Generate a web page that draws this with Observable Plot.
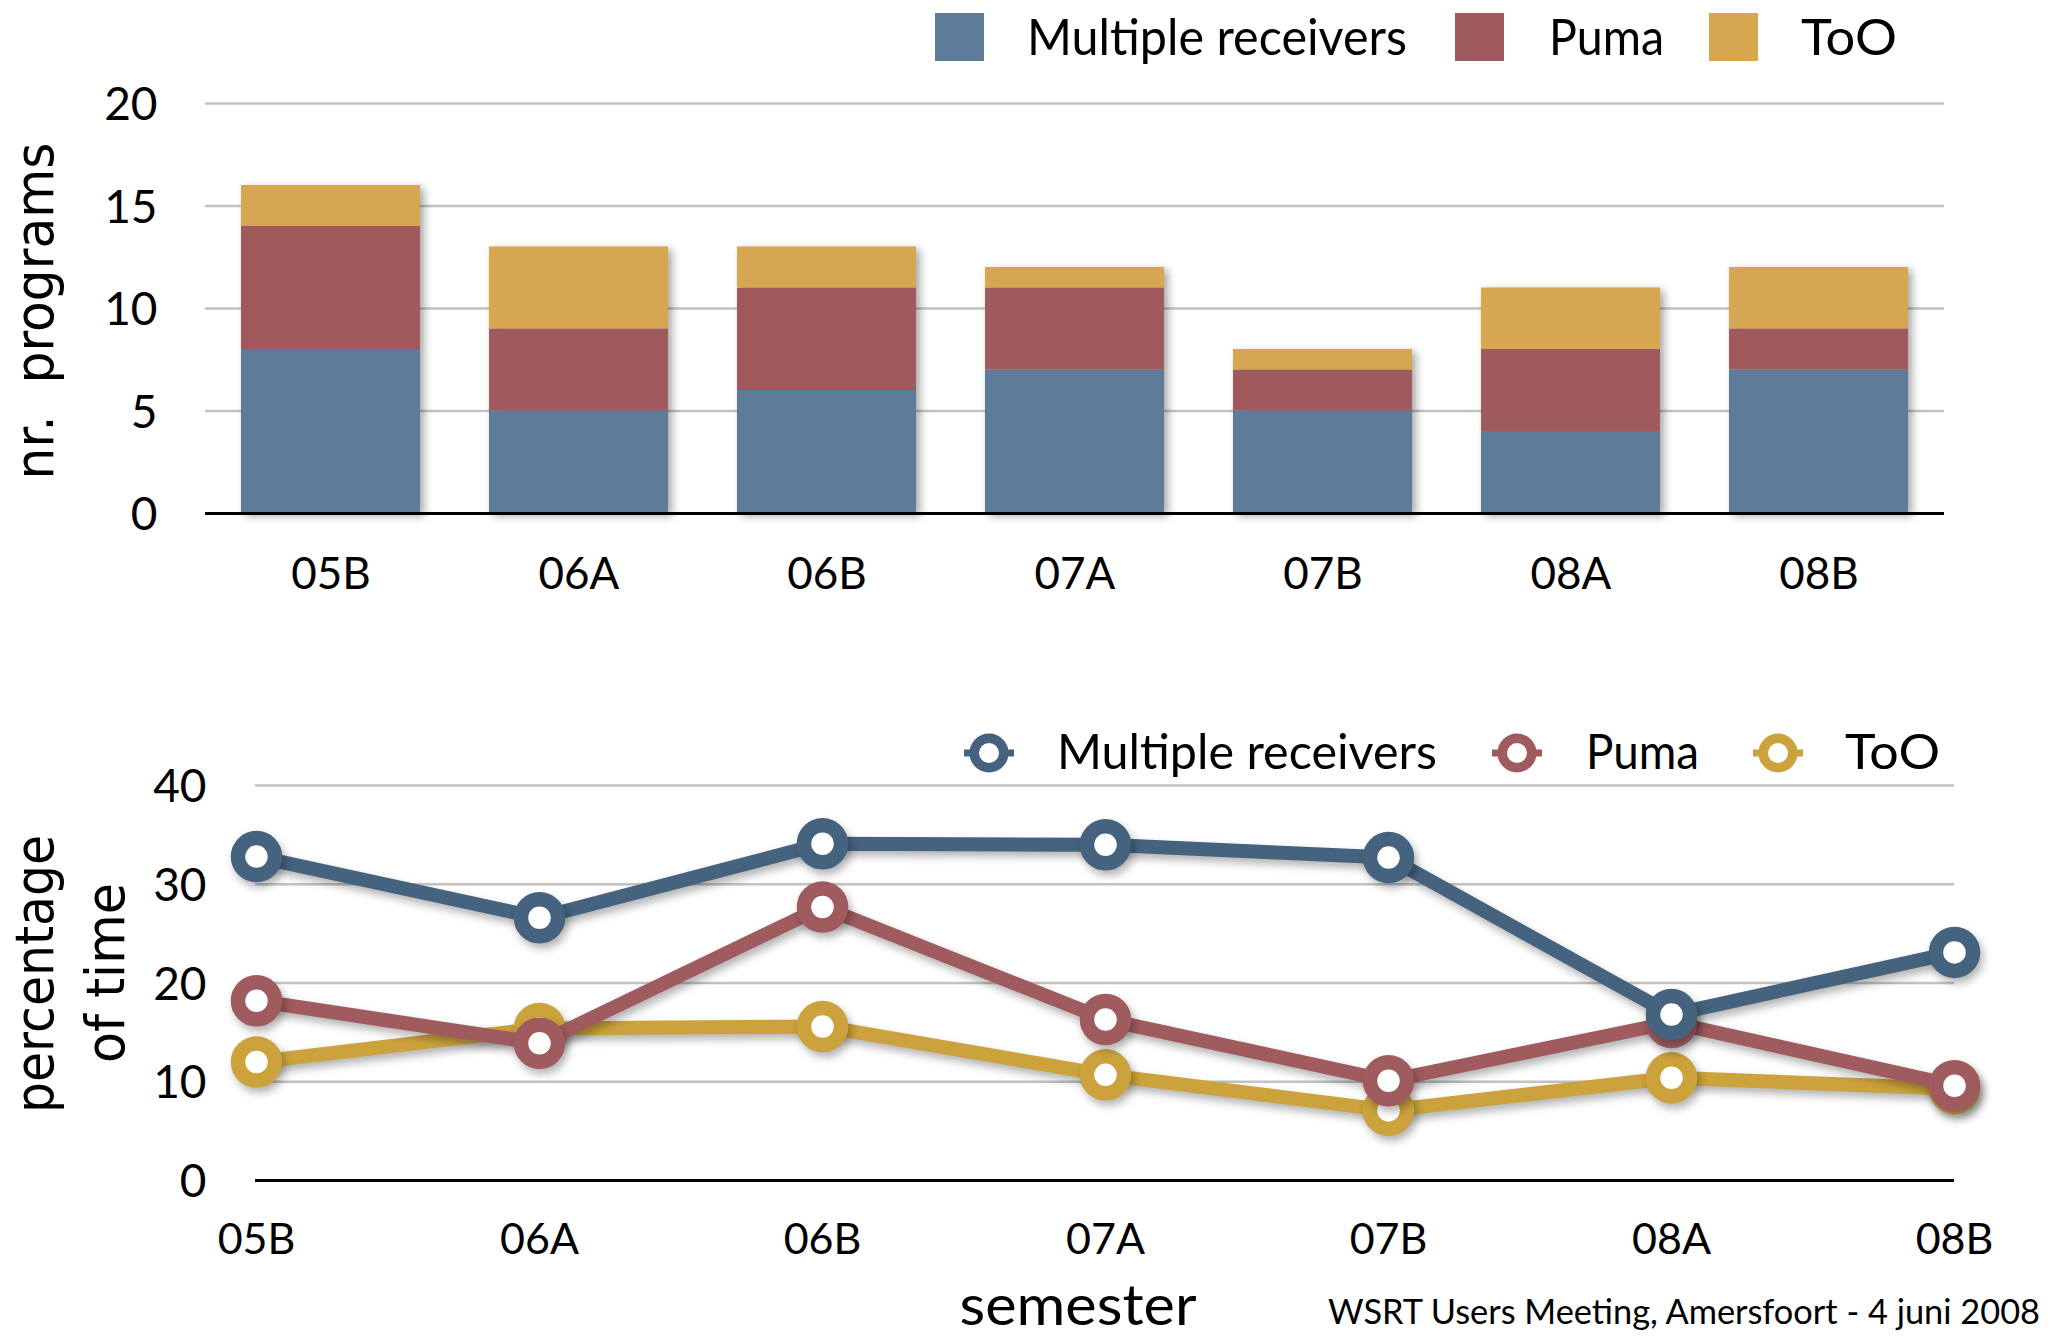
<!DOCTYPE html>
<html>
<head>
<meta charset="utf-8">
<script src="https://cdn.jsdelivr.net/npm/d3@7"></script>
<script src="https://cdn.jsdelivr.net/npm/@observablehq/plot@0.6"></script>
<style>
  html, body { margin: 0; padding: 0; background: #fff; }
  #root { position: relative; width: 2062px; height: 1339px; overflow: hidden; background: #fff; }
  #root > svg { position: absolute; left: 0; }
</style>
</head>
<body>
<div id="root"></div>
<script>
// ---- data ----
const semesters = ["05B", "06A", "06B", "07A", "07B", "08A", "08B"];
const seriesNames = ["Multiple receivers", "Puma", "ToO"];
const programsMR = [8, 5, 6, 7, 5, 4, 7];
const programsPuma = [6, 4, 5, 4, 2, 4, 2];
const programsToO = [2, 4, 2, 1, 1, 3, 3];
const timeMR = [32.8, 26.6, 34.1, 34.0, 32.7, 16.8, 23.1];
const timePuma = [18.2, 13.9, 27.7, 16.3, 10.1, 16.0, 9.6];
const timeToO = [12.0, 15.4, 15.6, 10.7, 7.1, 10.4, 9.3];
const programTicks = [0, 5, 10, 15, 20];
const percentTicks = [0, 10, 20, 30, 40];
const topYLabel = "nr.  programs";
const bottomYLabel = ["percentage", "of time"];
const bottomXLabel = "semester";
const caption = "WSRT Users Meeting, Amersfoort - 4 juni 2008";

const barColors = ["#5f7b9a", "#9e5a5c", "#d6a651"];
const lineColors = ["#45627e", "#a05b5e", "#cba23c"];

const root = document.getElementById("root");

// ---- top: stacked bars ----
const programValues = [programsMR, programsPuma, programsToO];
const barRows = semesters.flatMap((s, i) =>
  seriesNames.map((name, k) => ({semester: s, series: name, value: programValues[k][i]})));

const topChart = Plot.plot({
  width: 2062,
  height: 620,
  marginTop: 103,
  marginBottom: 107,
  marginLeft: 205,
  marginRight: 118,
  style: {fontFamily: "Lato, sans-serif", background: "transparent", color: "#000", overflow: "visible"},
  x: {domain: semesters, paddingInner: 0.28, paddingOuter: 0.14, label: null},
  y: {domain: [0, 20], label: null},
  color: {domain: seriesNames, range: barColors},
  marks: [
    Plot.ruleY(programTicks.filter(d => d > 0), {stroke: "#c2c2c2", strokeWidth: 2.5}),
    Plot.barY(barRows, {x: "semester", y: "value", fill: "series", order: seriesNames}),
    Plot.ruleY([0], {stroke: "#000", strokeWidth: 3}),
    Plot.axisY({ticks: programTicks, tickSize: 0, tickPadding: 48, fontSize: 46, dy: 2, label: null}),
    Plot.axisX({tickSize: 0, tickPadding: 44, fontSize: 44, label: null})
  ]
});
topChart.style.top = "0px";
root.appendChild(topChart);
d3.select(topChart).selectAll('g[aria-label="bar"]')
  .style("filter", "drop-shadow(4px 3px 4px rgba(0,0,0,0.35))");

// ---- bottom: lines ----
const timeValues = [timeMR, timePuma, timeToO];
const lineRows = seriesNames.map((name, k) =>
  semesters.map((s, i) => ({semester: s, series: name, value: timeValues[k][i]})));

const lineMarks = [];
[2, 1, 0].forEach(k => {
  lineMarks.push(Plot.line(lineRows[k], {x: "semester", y: "value", stroke: lineColors[k], strokeWidth: 14, strokeLinejoin: "round"}));
  lineMarks.push(Plot.dot(lineRows[k], {x: "semester", y: "value", r: 18.5, stroke: lineColors[k], strokeWidth: 14.5, fill: "#fff"}));
});

const bottomChart = Plot.plot({
  width: 2062,
  height: 699,
  marginTop: 145,
  marginBottom: 159,
  marginLeft: 255,
  marginRight: 108,
  style: {fontFamily: "Lato, sans-serif", background: "transparent", color: "#000", overflow: "visible"},
  x: {type: "point", domain: semesters, padding: 0, label: null},
  y: {domain: [0, 40], label: null},
  marks: [
    Plot.ruleY(percentTicks.filter(d => d > 0), {stroke: "#c2c2c2", strokeWidth: 2.5}),
    Plot.ruleY([0], {stroke: "#000", strokeWidth: 3}),
    Plot.axisY({ticks: percentTicks, tickSize: 0, tickPadding: 49, fontSize: 46, dy: 2, label: null}),
    Plot.axisX({tickSize: 0, tickPadding: 43, fontSize: 43, label: null}),
    ...lineMarks
  ]
});
bottomChart.style.top = "640px";
root.appendChild(bottomChart);
d3.select(bottomChart).selectAll('g[aria-label="line"], g[aria-label="dot"]')
  .style("filter", "drop-shadow(3px 5px 4px rgba(0,0,0,0.3))");

// ---- overlay: legends, titles, caption ----
const ov = d3.select(root).append("svg")
  .attr("width", 2062).attr("height", 1339)
  .style("top", "0px").style("pointer-events", "none")
  .attr("font-family", "Lato, sans-serif");

// top legend
const topLegend = [
  {sq: 935, tx: 1027, w: 380},
  {sq: 1455, tx: 1549, w: 115},
  {sq: 1709, tx: 1801, w: 96}
];
topLegend.forEach((p, k) => {
  ov.append("rect").attr("x", p.sq).attr("y", 13).attr("width", 49).attr("height", 48)
    .attr("fill", barColors[k]);
  ov.append("text").attr("x", p.tx).attr("y", 55).attr("font-size", 50)
    .attr("textLength", p.w).attr("lengthAdjust", "spacingAndGlyphs")
    .text(seriesNames[k]);
});

// bottom legend
const botLegend = [
  {cx: 989, tx: 1057, w: 380},
  {cx: 1517, tx: 1586, w: 113},
  {cx: 1778, tx: 1845, w: 95}
];
botLegend.forEach((p, k) => {
  ov.append("line").attr("x1", p.cx - 25).attr("x2", p.cx + 25).attr("y1", 753).attr("y2", 753)
    .attr("stroke", lineColors[k]).attr("stroke-width", 7);
  ov.append("circle").attr("cx", p.cx).attr("cy", 753).attr("r", 14.75)
    .attr("fill", "#fff").attr("stroke", lineColors[k]).attr("stroke-width", 9.5);
  ov.append("text").attr("x", p.tx).attr("y", 769).attr("font-size", 48)
    .attr("textLength", p.w).attr("lengthAdjust", "spacingAndGlyphs")
    .text(seriesNames[k]);
});

// y axis titles
const titleFont = "'DejaVu Sans', sans-serif";
ov.append("text")
  .attr("transform", "translate(53,311) rotate(-90)")
  .attr("text-anchor", "middle").attr("font-family", titleFont).attr("font-size", 53)
  .attr("textLength", 337).attr("lengthAdjust", "spacingAndGlyphs")
  .style("white-space", "pre")
  .text(topYLabel);
ov.append("text")
  .attr("transform", "translate(53,974) rotate(-90)")
  .attr("text-anchor", "middle").attr("font-family", titleFont).attr("font-size", 53)
  .attr("textLength", 278).attr("lengthAdjust", "spacingAndGlyphs")
  .text(bottomYLabel[0]);
ov.append("text")
  .attr("transform", "translate(124,973) rotate(-90)")
  .attr("text-anchor", "middle").attr("font-family", titleFont).attr("font-size", 53)
  .attr("textLength", 180).attr("lengthAdjust", "spacingAndGlyphs")
  .text(bottomYLabel[1]);

// x axis title
ov.append("text").attr("x", 1078).attr("y", 1325).attr("text-anchor", "middle")
  .attr("font-size", 57).attr("textLength", 237).attr("lengthAdjust", "spacingAndGlyphs")
  .text(bottomXLabel);

// caption
ov.append("text").attr("x", 1328).attr("y", 1324)
  .attr("font-size", 34).attr("textLength", 712).attr("lengthAdjust", "spacingAndGlyphs")
  .text(caption);
</script>
</body>
</html>
